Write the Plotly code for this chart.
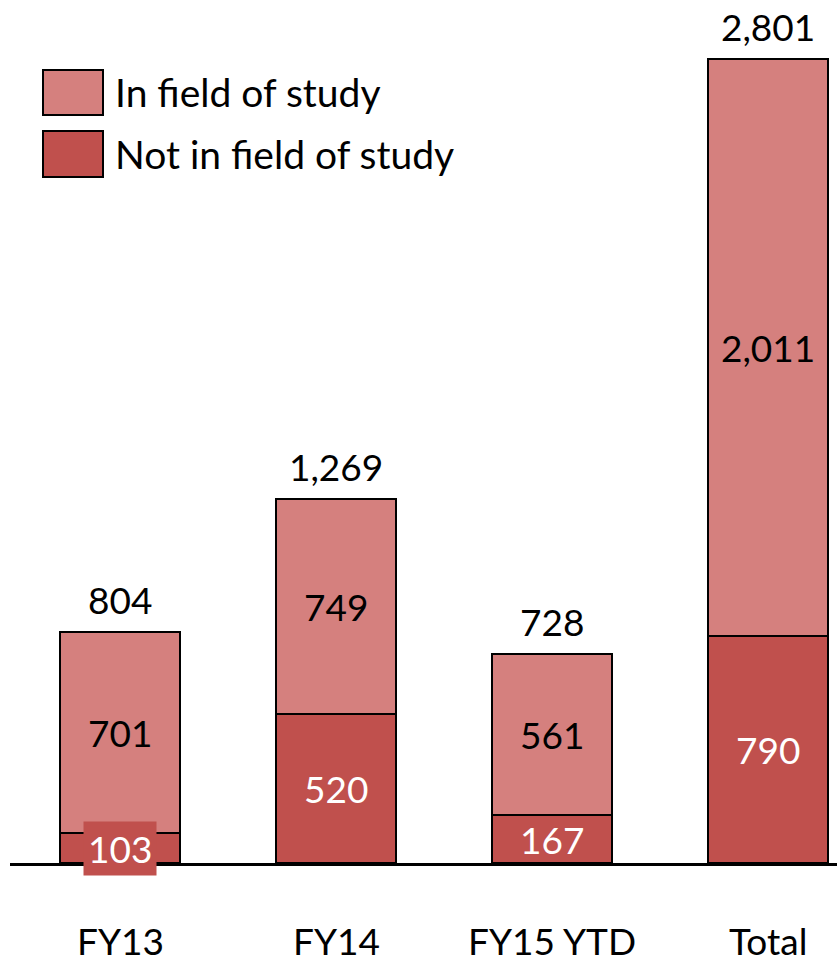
import plotly.graph_objects as go

categories = ["FY13", "FY14", "FY15 YTD", "Total"]
not_in_field = [103, 520, 167, 790]
in_field = [701, 749, 561, 2011]
totals = [804, 1269, 728, 2801]
series_names = ["In field of study", "Not in field of study"]

LIGHT = "#D5807E"
DARK = "#C0504D"
FONT = "Lato"
FS = 37
LFS = 39

x = list(range(len(categories)))
fig = go.Figure()
fig.add_trace(go.Bar(x=x, y=not_in_field, name=series_names[1], marker=dict(color=DARK, line=dict(color="black", width=2)), width=0.556))
fig.add_trace(go.Bar(x=x, y=in_field, name=series_names[0], marker=dict(color=LIGHT, line=dict(color="black", width=2)), width=0.556))

ann = []
for i in x:
    a = dict(x=i, y=not_in_field[i] / 2, text=str(not_in_field[i]), showarrow=False,
             font=dict(color="white", size=FS, family=FONT), xref="x", yref="y")
    if not_in_field[i] < 150:
        a["bgcolor"] = DARK
        a["borderpad"] = 4
        a["yshift"] = 0
    ann.append(a)
    ann.append(dict(x=i, y=not_in_field[i] + in_field[i] / 2, text=f"{in_field[i]:,}", showarrow=False,
                    font=dict(color="black", size=FS, family=FONT), xref="x", yref="y"))
    ann.append(dict(x=i, y=totals[i], text=f"{totals[i]:,}", showarrow=False, yanchor="bottom", yshift=8,
                    font=dict(color="black", size=FS, family=FONT), xref="x", yref="y"))
    ann.append(dict(x=i, y=-77 / 863, text=categories[i], showarrow=False, yanchor="middle",
                    font=dict(color="black", size=FS, family=FONT), xref="x", yref="paper"))

W = 827.0
H = 863.0
shapes = []
legend_items = [(series_names[0], LIGHT, 70, 115), (series_names[1], DARK, 131, 177)]
for name, col, y0, y1 in legend_items:
    shapes.append(dict(type="rect", xref="paper", yref="paper", x0=33 / W, x1=93 / W,
                       y0=(H - y1) / H, y1=(H - y0) / H, fillcolor=col, line=dict(color="black", width=2)))
    ann.append(dict(xref="paper", yref="paper", x=103 / W, y=(H - (y0 + y1) / 2) / H, text=name,
                    showarrow=False, xanchor="left", yanchor="middle",
                    font=dict(color="black", size=LFS, family=FONT)))

fig.update_layout(
    barmode="stack", width=837, height=966, margin=dict(l=10, r=0, t=0, b=103),
    plot_bgcolor="white", paper_bgcolor="white", showlegend=False,
    annotations=ann, shapes=shapes, font=dict(family=FONT, size=FS, color="black"),
)
fig.update_xaxes(range=[-110 / 216, 717 / 216], showticklabels=False, showgrid=False, zeroline=False,
                 showline=True, linecolor="black", linewidth=3, ticks="")
fig.update_yaxes(range=[0, 863 * 2801 / 804], visible=False, showgrid=False, zeroline=False)
fig.write_html("out.html")
